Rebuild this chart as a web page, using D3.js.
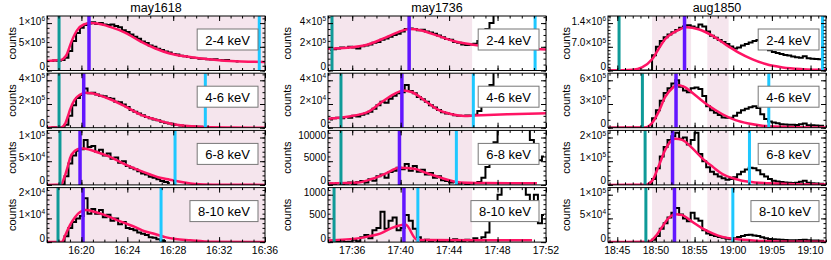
<!DOCTYPE html>
<html>
<head>
<meta charset="utf-8">
<script src="https://cdn.jsdelivr.net/npm/d3@7/dist/d3.min.js"></script>
<style>
  body { margin: 0; background: #fff; }
  text { font-family: "Liberation Sans", Arial, Helvetica, sans-serif; fill: #000; }
</style>
</head>
<body>
<svg id="chart" width="831" height="260"></svg>
<script>
// ---- data (time in minutes after the hour) ----
var bands = ["2-4 keV", "4-6 keV", "6-8 keV", "8-10 keV"];

// may1618 : 20 s bins
var may1618Start = [17.2, 17.2, 17.87, 18.2];
var may1618Unit = [1e5, 1e4, 1e3, 1e3];
var may1618_24 = [2.0,2.1,2.05,2.2,2.7,4.1,6.2,7.9,9.0,9.6,9.9,10.2,9.8,10.0,9.7,9.6,9.7,9.4,9.1,8.5,8.1,7.6,7.1,6.7,6.1,5.8,5.3,5.0,4.6,4.3,4.0,3.8,3.5,3.35,3.1,3.0,2.85,2.7,2.65,2.5,2.5,2.4,2.3,2.35,2.2,2.15,2.2,2.0,2.0,1.9];
var may1618_46 = [0.2,0.3,0.2,0.5,2.5,10,19,25,27.5,33,29,29.5,28,27,26.5,25,24.5,22,21.5,19.5,17.5,15,13.5,12,10.5,9,8,7,6.2,5,4.2,3.5,2.8,2.2,1.8,1.5,1.2,1.0,0.8,0.7,0.5];
var may1618_68 = [0.5,1,18,45,62,72,75,95,80,82,70,74,62,66,55,58,47,50,40,36,33,29,24,22,17,15,12,8,6,4];
var may1618_810 = [0.2,2.5,6,8.5,10,11,18.5,12,14,12,13.5,10.5,11.5,9,10,7.5,8.5,6,5.5,5,4,3.5,3,2,1.8,1.2,0.8,0.5];
var may1618Fit24 = [[17,2.0],[18,2.2],[18.3,2.3],[18.7,3.3],[19.15,6.2],[19.6,8.4],[20.2,9.7],[20.8,10.0],[21.4,9.9],[22.5,9.2],[23.8,8.0],[25.1,6.2],[26.4,4.7],[27.7,3.6],[29.0,3.0],[30.3,2.6],[33,2.0],[36,1.8]];
var may1618Fit46 = [[17,0.1],[18.2,0.1],[18.5,2],[18.8,9],[19.0,15],[19.4,23.5],[19.9,28],[20.4,29.5],[20.9,29],[21.5,27.5],[22.5,24],[23.8,18],[25.1,11.3],[26.4,7],[27.7,3.6],[29,1.7],[30.3,0.8],[33,0.2],[36,0]];
var may1618Fit68 = [[17,0],[18.2,0.2],[18.5,15],[18.8,38],[19.0,56],[19.44,72],[19.9,77],[20.2,77],[20.75,74],[21.6,67],[22.5,59],[23.4,48],[24.2,39],[25.1,30],[26,22],[26.85,15],[27.7,11],[28.6,6.5],[29.5,3],[30.3,1.5],[32.1,0.5],[36,0]];
var may1618Fit810 = [[17,0],[18.3,0.1],[18.6,3],[19.0,7.2],[19.44,10.5],[19.88,12.7],[20.4,13.5],[21.2,12.7],[22.06,11.4],[22.9,9.7],[23.8,8],[24.7,6.3],[25.5,4.6],[26.4,3.4],[27.3,2.1],[28.2,1.3],[29.5,0.8],[31.2,0.2],[36,0]];
var may1618Rise = [18.05, 18.05, 18.13, 17.96];
var may1618Peak = [20.66, 20.2, 19.88, 20.14];
var may1618End = [35.5, 30.8, 28.16, 26.94];
var may1618Shade = [[16.5, 36.5]];

// may1736 : 20 s bins
var may1736Start = [34, 34, 34, 34];
var may1736Unit = [1e4, 1e3, 1e2, 10];
var may1736_24 = [17.5,18,18.5,19.5,19,20,19.5,18.5,20.5,21,22,23.5,24,26,27,28.5,30,31,33,35,35.5,35,34,34.5,33,32,31,29.5,28,26.5,26,24,23.5,22,21.5,22,22.5,25,30,35,40,47,60,80,100,120];
var may1736_46 = [7,8,8.5,8,9,8.5,10,9.5,11,12,13.5,16,19,22,21,24.5,27,29,30,36,31,29,26,24,22,19,17,15,13,12,11.5,10.5,10,9.8,10.2,10,11,14,19,27,36,50,70,90];
var may1736_68 = [3,2,4,1,3,5,2,6,8,5,12,9,18,22,15,27,30,36,33,44,30,40,28,32,22,25,15,18,10,8,5,6,3,4,2,3,4,6,15,38,60,90,130,150,160,160,150,140,130,120,95,75,52,60];
var may1736_810 = [0,2,0,3,0,1,5,2,10,15,8,25,30,64,28,45,52,25,30,57,45,28,10,3,5,0,4,2,0,3,1,6,2,0,5,3,8,4,10,20,45,70,100,130,150,160,150,140,120,100,75,100,40,57];
var may1736Fit24 = [[34,18.4],[35.6,19.2],[37.3,22],[38.7,27.5],[39.75,32.2],[40.74,35],[41.72,33.8],[43.04,29.4],[44.44,24.7],[45.83,22],[47.48,20],[49.37,18.9],[52,17.7]];
var may1736Fit46 = [[34,7.5],[35.6,9.3],[37.3,13.3],[38.4,21.4],[39.5,28.6],[40.2,31.5],[40.9,30.1],[42,22.8],[43,15.6],[44.2,11.3],[45.3,9.8],[46.1,10.2],[48.8,11.3],[52,12.2]];
var may1736Fit68 = [[34,2.8],[36.5,5],[37.6,12.4],[38.7,23.2],[39.9,36],[41.1,34],[42.2,24.5],[43.4,14.5],[44.4,7.2],[45.5,4.3],[47,3.8],[51.25,3.7]];
var may1736Fit810 = [[34,3.6],[36.6,8.4],[37.5,13],[38.3,18],[39.2,29],[40.4,37],[41.3,5.7],[42,4.2],[50.85,4]];
var may1736Rise = [34.33, 35.07, 35.07, 34.5];
var may1736Peak = [40.7, 40.1, 39.9, 40.27];
var may1736End = [51.1, 46.0, 44.6, 41.42];
var may1736Shade = [[33.5, 45.9]];

// aug1850 : 30 s bins
var aug1850Start = [43.5, 43.5, 43.5, 43.5];
var aug1850Unit = [1e5, 1e4, 1e4, 1e3];
var aug1850_24 = [0,0,0,0,0,0,0,0,0,0,0,0,4.5,7.0,8.7,9.8,10.6,11.3,12.0,12.6,13.0,13.4,13.0,12.6,13.6,13.0,11.5,10.3,9.7,9.0,8.4,7.8,7.1,6.5,6.8,7.4,7.8,8.3,8.7,9.0,7.5,6.5,6.0,5.5,5.2,4.9,4.6,4.4,4.1,3.9,3.8,4.2,3.6,3.5,3.4,3.3,3.2];
var aug1850_46 = [0,0,0,0,0,0,0,0,0,0,0,0,12,22,34,44,50,56,60,52,47,45,50,51,49,40,27,22,19,16,13,12.5,12.6,15,19,22,24,26,27,25,17,11,8,6.5,5.5,4.5,4,3.8,3.6,3.5,4.5,5.2,3.2,3,2.8,2.6,2.5];
var aug1850_68 = [0,0,0,0,0,0,0,0,0,0,0,0,2.5,7,12,16,19,20.5,22,19.5,20,17,19,22,13,10,7.5,5.5,4.5,3.5,2.8,2.2,2.5,3.2,4.5,5.5,6.5,7.2,7,6.2,4.5,3.5,2.5,1.8,1.4,1.2,1.0,0.9,0.8,0.9,1.3,1.7,0.9,0.7,0.6,0.5,0.5];
var aug1850_810 = [0,0,0,0,0,0,0,0,0,0,0,0,5,13,28,40,52,62,72,58,50,44,62,50,45,25,18,15,13,11,9,7,6,8,11,13,15,15.5,14,13,10,8,6.5,6,5.5,5,4.5,4,4,4,4.5,5,4,3.5,3.5,3,3];
var aug1850Fit24 = [[43.8,0],[47,0.2],[48.2,0.9],[49.5,3.3],[50.3,6.2],[51.2,9.3],[52.5,11.5],[54,12.8],[55.5,12.2],[57.3,10.3],[59,7.7],[60.7,5.3],[62.5,3.3],[64.2,1.9],[66.4,0.9],[69,0.4],[72,0.2]];
var aug1850Fit46 = [[43.8,0],[48.6,0.3],[49.5,6],[50.3,19],[51.2,39],[52.1,50],[52.7,54],[53.6,52],[55.1,41],[56.8,28],[58.6,17],[60.3,9.5],[62,5.2],[64.6,1.7],[68.1,0.5],[72,0.2]];
var aug1850Fit68 = [[43.8,0],[48.6,0.1],[49.5,1.7],[50.3,7.5],[51.2,14.8],[52.1,19],[52.5,19.5],[53.4,19],[54.7,15.5],[56,11.2],[57.4,7.5],[58.6,4.6],[60.3,2.5],[62,1.3],[64.6,0.7],[68,0.3],[72,0.2]];
var aug1850Fit810 = [[43.8,0],[49,0.5],[49.9,11],[50.8,32],[51.6,50],[52.5,59],[53.4,57],[54.7,43],[56,29],[57.4,18],[58.6,11],[60.3,6.3],[62.9,3],[66,1.5],[72,1]];
var aug1850Rise = [45.23, 48.25, 48.6, 48.7];
var aug1850Peak = [53.7, 52.6, 52.15, 52.4];
var aug1850End = [71.55, 64.6, 62.1, 59.95];
var aug1850Shade = [[49.5, 54.55], [56.65, 59.4]];

// axes
var may1618XTicks = [20, 24, 28, 32, 36];
var may1618XLabels = ["16:20", "16:24", "16:28", "16:32", "16:36"];
var may1736XTicks = [36, 40, 44, 48, 52];
var may1736XLabels = ["17:36", "17:40", "17:44", "17:48", "17:52"];
var aug1850XTicks = [45, 50, 55, 60, 65, 70];
var aug1850XLabels = ["18:45", "18:50", "18:55", "19:00", "19:05", "19:10"];

var may1618YTop = [1e6, 4e5, 1e5, 2e4];
var may1618YLabels = [["0","5×10^5","1×10^6"], ["0","2×10^5","4×10^5"], ["0","5×10^4","1×10^5"], ["0","1×10^4","2×10^4"]];
var may1618YMinor = [1e5, 5e4, 1e4, 2e3];
var may1736YTop = [4e5, 4e4, 1e4, 1000];
var may1736YLabels = [["0","2×10^5","4×10^5"], ["0","2×10^4","4×10^4"], ["0","5000","10000"], ["0","500","1000"]];
var may1736YMinor = [5e4, 5e3, 1e3, 100];
var aug1850YTop = [1.4e6, 6e5, 2e5, 1e5];
var aug1850YLabels = [["0","7.0×10^5","1.4×10^6"], ["0","3×10^5","6×10^5"], ["0","1×10^5","2×10^5"], ["0","5×10^4","1×10^5"]];
var aug1850YMinor = [1e5, 1e5, 2e4, 1e4];

// ---- layout ----
var colLeft = [47, 328, 608];
var colWidth = 218;
var rowTop0 = 16, rowHeight = 54.5, rowGap = 2.7;
var countsOffset = [31, 37, 38];

var events = [
  { name: "may1618", bin: 1/3, start: may1618Start, unit: may1618Unit,
    data: [may1618_24, may1618_46, may1618_68, may1618_810],
    fit: [may1618Fit24, may1618Fit46, may1618Fit68, may1618Fit810],
    rise: may1618Rise, peak: may1618Peak, end: may1618End, shade: may1618Shade,
    domain: [17, 36], xTicks: may1618XTicks, xLabels: may1618XLabels,
    yTop: may1618YTop, yLabels: may1618YLabels, yMinor: may1618YMinor },
  { name: "may1736", bin: 1/3, start: may1736Start, unit: may1736Unit,
    data: [may1736_24, may1736_46, may1736_68, may1736_810],
    fit: [may1736Fit24, may1736Fit46, may1736Fit68, may1736Fit810],
    rise: may1736Rise, peak: may1736Peak, end: may1736End, shade: may1736Shade,
    domain: [34, 52], xTicks: may1736XTicks, xLabels: may1736XLabels,
    yTop: may1736YTop, yLabels: may1736YLabels, yMinor: may1736YMinor },
  { name: "aug1850", bin: 0.5, start: aug1850Start, unit: aug1850Unit,
    data: [aug1850_24, aug1850_46, aug1850_68, aug1850_810],
    fit: [aug1850Fit24, aug1850Fit46, aug1850Fit68, aug1850Fit810],
    rise: aug1850Rise, peak: aug1850Peak, end: aug1850End, shade: aug1850Shade,
    domain: [43.8, 72], xTicks: aug1850XTicks, xLabels: aug1850XLabels,
    yTop: aug1850YTop, yLabels: aug1850YLabels, yMinor: aug1850YMinor }
];
// fit values are stored in the same unit as the data
var fitUnit = [[1e5, 1e4, 1e3, 1e3], [1e4, 1e3, 1e2, 10], [1e5, 1e4, 1e4, 1e3]];

var svg = d3.select("#chart");
var defs = svg.append("defs");

function yLabel(sel, str) {
  var parts = str.split("^");
  sel.append("tspan").text(parts[0]);
  if (parts[1]) sel.append("tspan").attr("dy", -3.5).attr("font-size", 6.5).text(parts[1]);
}

events.forEach(function (ev, c) {
  var left = colLeft[c], right = left + colWidth;
  var x = d3.scaleLinear().domain(ev.domain).range([left, right]);

  svg.append("text")
    .attr("x", left + colWidth / 2).attr("y", 12)
    .attr("text-anchor", "middle").attr("font-size", 12.5)
    .text(ev.name);

  var minorX = d3.range(Math.ceil(ev.domain[0]), ev.domain[1] + 0.001, 1);

  bands.forEach(function (band, r) {
    var top = rowTop0 + r * (rowHeight + rowGap), bottom = top + rowHeight;
    var T = ev.yTop[r];
    var y = d3.scaleLinear().domain([0, T * 1.15]).range([bottom, top]);
    var g = svg.append("g");

    var clipId = "clip-" + c + "-" + r;
    defs.append("clipPath").attr("id", clipId).append("rect")
      .attr("x", left).attr("y", top).attr("width", colWidth).attr("height", rowHeight);
    var plot = g.append("g").attr("clip-path", "url(#" + clipId + ")");

    // fit interval shading
    ev.shade.forEach(function (s) {
      plot.append("rect")
        .attr("x", x(s[0])).attr("width", x(s[1]) - x(s[0]))
        .attr("y", top).attr("height", rowHeight)
        .attr("fill", "#f5e5ed");
    });

    // histogram
    var u = ev.unit[r], s0 = ev.start[r];
    var pts = ev.data[r].map(function (v, i) { return [s0 + (i + 0.5) * ev.bin, v * u]; });
    plot.append("path").datum(pts)
      .attr("d", d3.line().x(function (d) { return x(d[0]); }).y(function (d) { return y(d[1]); }).curve(d3.curveStep))
      .attr("fill", "none").attr("stroke", "#000").attr("stroke-width", 2);

    // fit
    var fu = fitUnit[c][r];
    plot.append("path").datum(ev.fit[r])
      .attr("d", d3.line().x(function (d) { return x(d[0]); }).y(function (d) { return y(d[1] * fu); }).curve(d3.curveMonotoneX))
      .attr("fill", "none").attr("stroke", "#ff1464").attr("stroke-width", 2.5);

    // markers
    [[ev.rise[r], "#0f9a98", 3], [ev.peak[r], "#6216ff", 3.5], [ev.end[r], "#1ec8ff", 3]].forEach(function (m) {
      plot.append("line")
        .attr("x1", x(m[0])).attr("x2", x(m[0]))
        .attr("y1", top).attr("y2", bottom)
        .attr("stroke", m[1]).attr("stroke-width", m[2]);
    });

    // band label box
    var lbl = g.append("text").attr("font-size", 13).text(band);
    var tw = lbl.node().getComputedTextLength();
    var bw = tw + 16, bx = right - 7 - bw, by = top + 13;
    g.insert("rect", function () { return lbl.node(); })
      .attr("x", bx).attr("y", by).attr("width", bw).attr("height", 21)
      .attr("fill", "#fff").attr("stroke", "#777").attr("stroke-width", 1);
    lbl.attr("x", bx + 8).attr("y", by + 15.5);

    // ticks (inward on all sides)
    var yMajor = [0, T / 2, T];
    var yMin = d3.range(0, T * 1.15, ev.yMinor[r]);
    function tickAxis(axis, tx, ty) {
      var a = g.append("g").attr("transform", "translate(" + tx + "," + ty + ")").call(axis);
      a.select(".domain").remove();
      a.selectAll("line").attr("stroke", "#000");
      return a;
    }
    tickAxis(d3.axisBottom(x).tickValues(minorX).tickSizeInner(-2.5).tickSizeOuter(0).tickFormat(""), 0, bottom);
    tickAxis(d3.axisTop(x).tickValues(minorX).tickSizeInner(-2.5).tickSizeOuter(0).tickFormat(""), 0, top);
    tickAxis(d3.axisBottom(x).tickValues(ev.xTicks).tickSizeInner(-5).tickSizeOuter(0).tickFormat(""), 0, bottom);
    tickAxis(d3.axisTop(x).tickValues(ev.xTicks).tickSizeInner(-5).tickSizeOuter(0).tickFormat(""), 0, top);
    tickAxis(d3.axisLeft(y).tickValues(yMin).tickSizeInner(-2.5).tickSizeOuter(0).tickFormat(""), left, 0);
    tickAxis(d3.axisRight(y).tickValues(yMin).tickSizeInner(-2.5).tickSizeOuter(0).tickFormat(""), right, 0);
    tickAxis(d3.axisLeft(y).tickValues(yMajor).tickSizeInner(-5).tickSizeOuter(0).tickFormat(""), left, 0);
    tickAxis(d3.axisRight(y).tickValues(yMajor).tickSizeInner(-5).tickSizeOuter(0).tickFormat(""), right, 0);

    g.append("rect")
      .attr("x", left).attr("y", top).attr("width", colWidth).attr("height", rowHeight)
      .attr("fill", "none").attr("stroke", "#000").attr("stroke-width", 1);

    // y labels: the top one sits a little lower so it clears the panel above
    yMajor.forEach(function (v, i) {
      var t = g.append("text")
        .attr("x", left - 2).attr("y", y(v) + (i === 2 ? 1.5 : -0.5))
        .attr("text-anchor", "end").attr("font-size", 10);
      yLabel(t, ev.yLabels[r][i]);
    });

    g.append("text")
      .attr("transform", "translate(" + (left - countsOffset[c]) + "," + (top + rowHeight / 2) + ") rotate(-90)")
      .attr("text-anchor", "middle").attr("font-size", 11)
      .text("counts");

    if (r === bands.length - 1) {
      ev.xTicks.forEach(function (t, i) {
        g.append("text")
          .attr("x", x(t)).attr("y", bottom + 12)
          .attr("text-anchor", "middle").attr("font-size", 10.5)
          .text(ev.xLabels[i]);
      });
    }
  });
});
</script>
</body>
</html>
